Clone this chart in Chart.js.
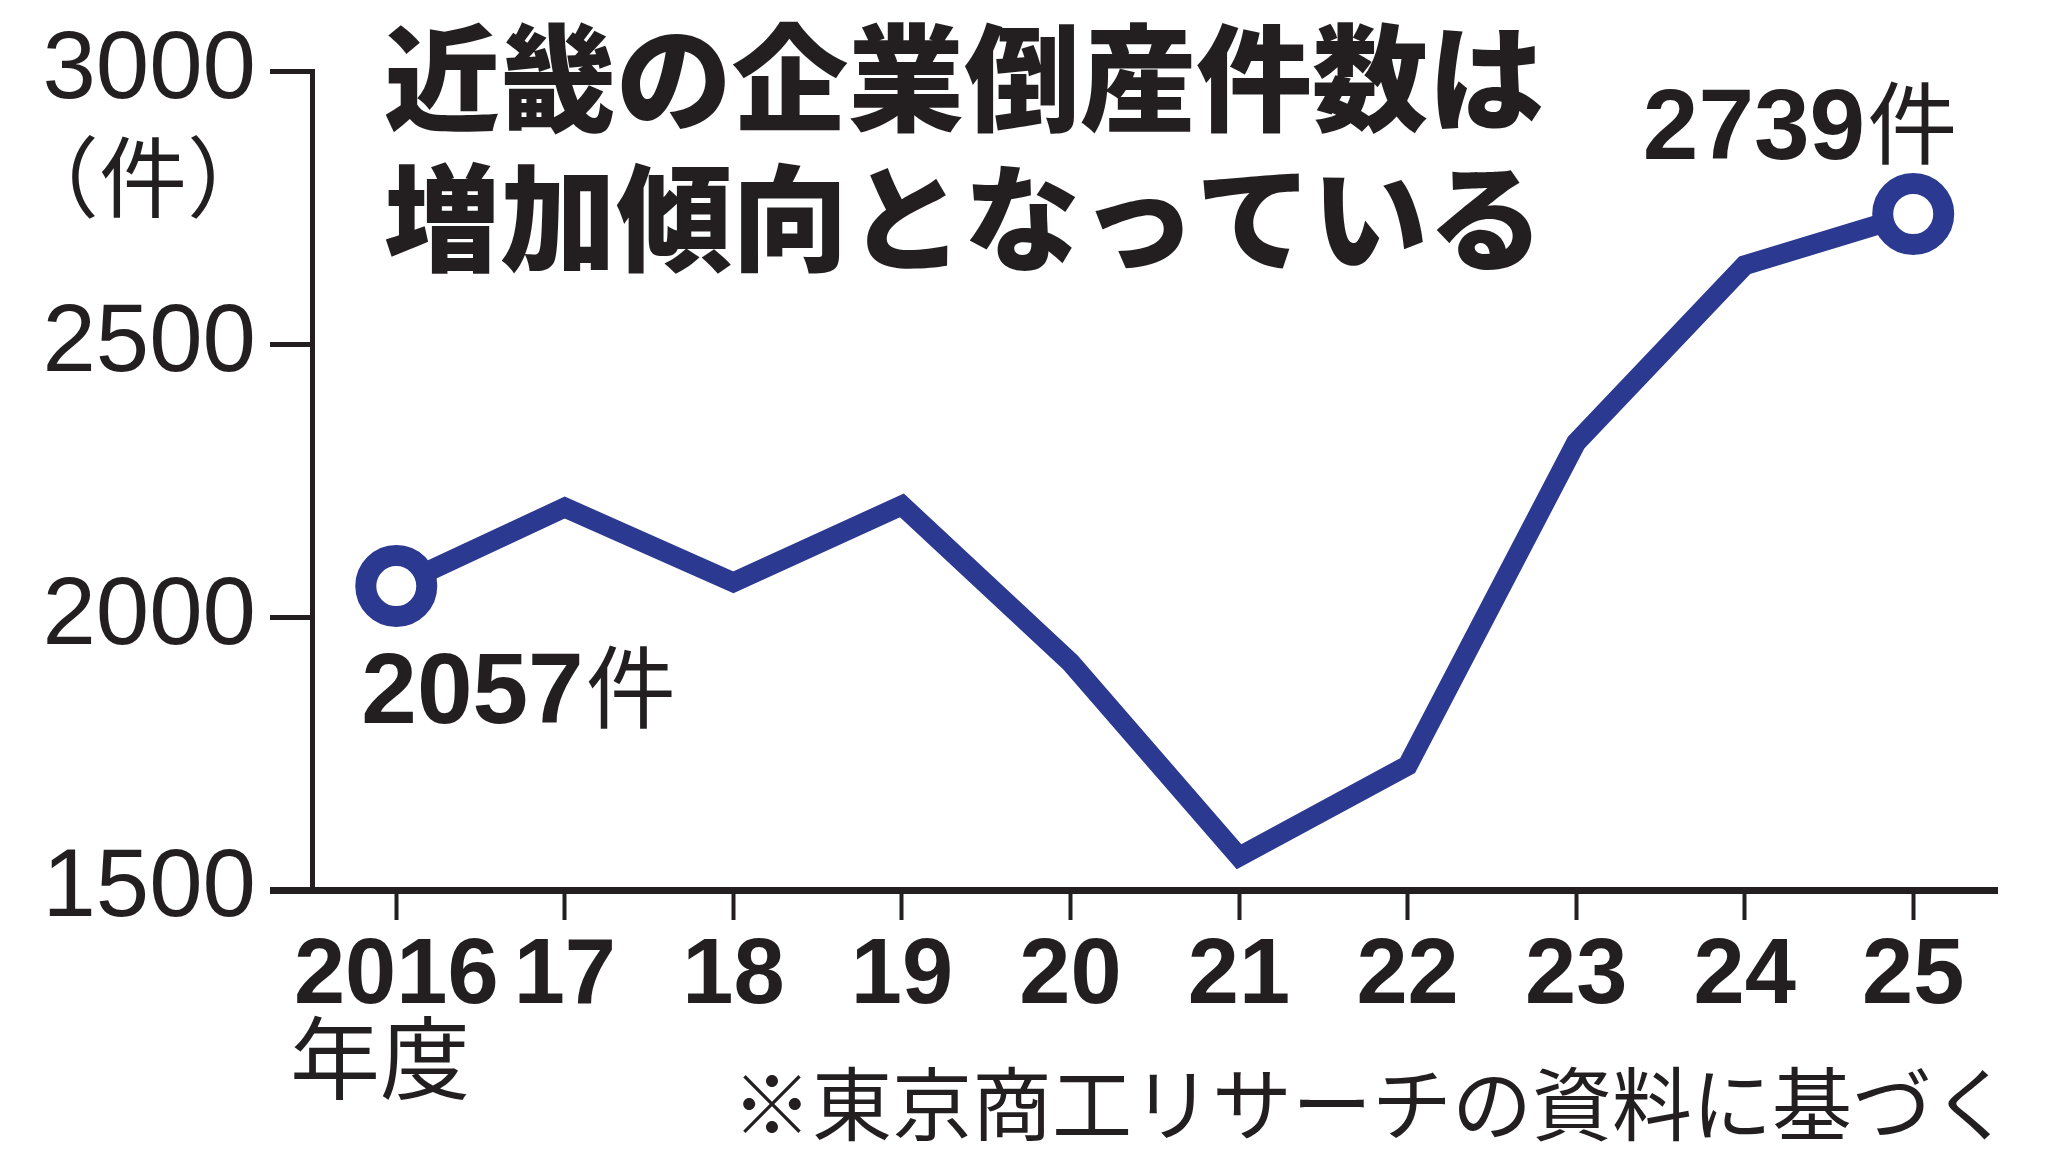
<!DOCTYPE html>
<html lang="ja">
<head>
<meta charset="utf-8">
<title>近畿の企業倒産件数</title>
<script src="https://cdn.jsdelivr.net/npm/chart.js@4"></script>
<style>
    html, body { margin: 0; padding: 0; background: #fff; }
    #chartBox { width: 2049px; height: 1160px; }
</style>
</head>
<body>
<div id="chartBox"><canvas id="bankruptcyChart" width="2049" height="1160"></canvas></div>
<script>
// 近畿の企業倒産件数（年度）
const fiscalYears = ['2016', '17', '18', '19', '20', '21', '22', '23', '24', '25'];
const bankruptcies = [2057, 2201, 2064, 2205, 1917, 1561, 1728, 2320, 2645, 2739];
const yTicks = [1500, 2000, 2500, 3000];

const titleLines = ['近畿の企業倒産件数は', '増加傾向となっている'];
const unitLabel = '（件）';
const yearLabel = '年度';
const sourceNote = '※東京商工リサーチの資料に基づく';

const INK = '#231f20';
const LINE_BLUE = '#2b3990';
const JP_FONT = '"Noto Sans CJK JP", "Noto Sans", sans-serif';
const NUM_FONT = '"Liberation Sans", Arial, sans-serif';

const lastIndex = bankruptcies.length - 1;

// titles, unit and value labels drawn on top of the chart
const textPlugin = {
    id: 'textPlugin',
    afterDraw(chart) {
        const ctx = chart.ctx;
        const xScale = chart.scales.x;
        const yScale = chart.scales.y;
        ctx.save();
        ctx.fillStyle = INK;

        // headline
        ctx.font = `900 116px ${JP_FONT}`;
        ctx.textAlign = 'left';
        ctx.textBaseline = 'alphabetic';
        ctx.fillText(titleLines[0], 384, 122);
        ctx.fillText(titleLines[1], 384, 262);

        // unit under top tick
        ctx.font = `400 88px ${JP_FONT}`;
        ctx.textAlign = 'center';
        ctx.fillText(unitLabel, 143, 210);

        // 年度
        ctx.textAlign = 'left';
        ctx.font = `400 90px ${JP_FONT}`;
        ctx.fillText(yearLabel, 290, 1092);

        // source note
        ctx.textAlign = 'right';
        ctx.font = `400 80px ${JP_FONT}`;
        ctx.fillText(sourceNote, 2012, 1134);

        // first and last values
        const firstX = xScale.getPixelForValue(0);
        const firstY = yScale.getPixelForValue(bankruptcies[0]);
        drawValueLabel(ctx, bankruptcies[0], firstX - 35, firstY + 137, 'left');

        const lastX = xScale.getPixelForValue(lastIndex);
        const lastY = yScale.getPixelForValue(bankruptcies[lastIndex]);
        drawValueLabel(ctx, bankruptcies[lastIndex], lastX + 42, lastY - 55, 'right');

        ctx.restore();
    }
};

function drawValueLabel(ctx, value, x, baseline, align) {
    const numText = String(value);
    ctx.textBaseline = 'alphabetic';
    ctx.textAlign = 'left';
    ctx.font = `700 100px ${NUM_FONT}`;
    const numWidth = ctx.measureText(numText).width;
    ctx.font = `400 90px ${JP_FONT}`;
    const unitWidth = ctx.measureText('件').width;
    const startX = align === 'right' ? x - numWidth - unitWidth : x;
    ctx.font = `700 100px ${NUM_FONT}`;
    ctx.fillText(numText, startX, baseline);
    ctx.font = `400 90px ${JP_FONT}`;
    ctx.fillText('件', startX + numWidth + 2, baseline - 2);
}

const chartCtx = document.getElementById('bankruptcyChart').getContext('2d');

new Chart(chartCtx, {
    type: 'line',
    data: {
        labels: fiscalYears,
        datasets: [{
            data: bankruptcies,
            borderColor: LINE_BLUE,
            borderWidth: 20,
            borderJoinStyle: 'miter',
            borderCapStyle: 'butt',
            tension: 0,
            fill: false,
            pointRadius: ctx => (ctx.dataIndex === 0 || ctx.dataIndex === lastIndex) ? 30.5 : 0,
            pointBorderWidth: 21,
            pointBorderColor: LINE_BLUE,
            pointBackgroundColor: '#ffffff',
            pointHoverRadius: 0,
            clip: false
        }]
    },
    options: {
        responsive: false,
        devicePixelRatio: 1,
        animation: false,
        events: [],
        layout: {
            padding: { top: 68, right: 44, left: 0, bottom: 0 }
        },
        plugins: {
            legend: { display: false },
            tooltip: { enabled: false },
            title: { display: false }
        },
        scales: {
            x: {
                offset: true,
                border: { display: true, color: INK, width: 7 },
                grid: {
                    display: true,
                    drawOnChartArea: false,
                    drawTicks: true,
                    tickLength: 30,
                    tickWidth: 4,
                    tickColor: INK,
                    offset: false
                },
                ticks: {
                    color: INK,
                    padding: 2,
                    maxRotation: 0,
                    autoSkip: false,
                    font: { family: NUM_FONT, size: 92, weight: '700' }
                },
                afterFit: scale => { scale.height = 270; }
            },
            y: {
                min: 1500,
                max: 3000,
                border: { display: true, color: INK, width: 5 },
                grid: {
                    display: true,
                    drawOnChartArea: false,
                    drawTicks: true,
                    tickLength: 42,
                    tickWidth: ctx => (ctx.tick && ctx.tick.value === 1500) ? 7 : 5,
                    tickColor: INK
                },
                ticks: {
                    color: INK,
                    padding: 14,
                    font: { family: NUM_FONT, size: 96, weight: '400' },
                    callback: value => String(value)
                },
                afterBuildTicks: scale => {
                    scale.ticks = yTicks.map(v => ({ value: v }));
                },
                afterFit: scale => { scale.width = 312; }
            }
        }
    },
    plugins: [textPlugin]
});
</script>
</body>
</html>
